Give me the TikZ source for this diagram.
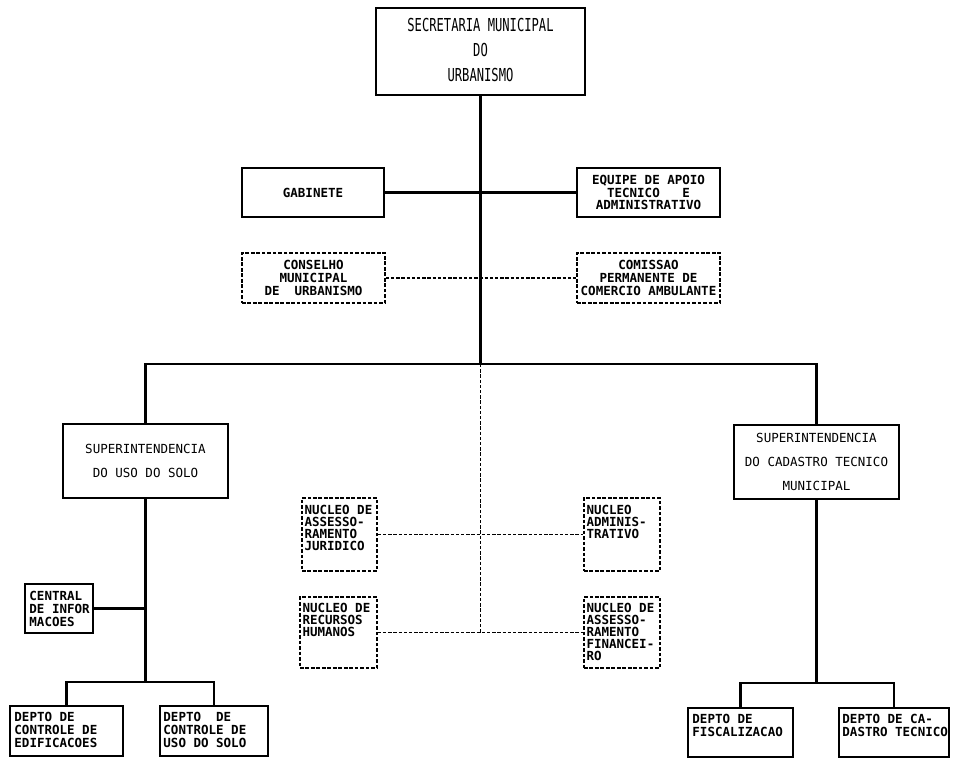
\documentclass[tikz,border=0pt]{standalone}
\usepackage{fontspec}
\setmonofont{DejaVu Sans Mono}
\usepackage{graphicx}

\newcommand{\px}{0.25mm}

\begin{document}
\begin{tikzpicture}[x=0.25mm, y=-0.25mm,
    every node/.style={inner sep=0pt},
    conn/.style={line width=1.5pt},
    dconn/.style={line width=1.4pt, dash pattern=on 2.4pt off 1.3pt},
    box/.style 2 args={draw, line width=1.2pt, minimum width=#1*\px,
        minimum height=#2*\px, align=center,
        font=\fontsize{8.9}{9.2}\selectfont\ttfamily\bfseries},
    dbox/.style 2 args={box={#1}{#2}, line width=1.1pt, dash pattern=on 2.6pt off 1.3pt},
    supbox/.style={box={165}{74}, font=\fontsize{8.9}{17}\selectfont\ttfamily},
    txt/.style={font=\fontsize{8.9}{#1}\selectfont\ttfamily\bfseries,
        align=left, anchor=north west},
    txt/.default=9.2]
    \useasboundingbox (0,0) rectangle (954,759);

    \node[box={209}{87}, font=\normalfont] (smu) at (480.5,51.5)
        {\scalebox{0.68}[1]{\fontsize{12.7}{18}\selectfont\ttfamily
         \begin{tabular}{@{}c@{}}SECRETARIA MUNICIPAL\\DO\\URBANISMO\end{tabular}}};

    \node[box={142}{49}] (gab) at (313,192.5) {GABINETE};
    \node[box={143}{49}] (equ) at (648.5,192.5)
        {EQUIPE DE APOIO\\TECNICO~~~E\\ADMINISTRATIVO};
    \node[dbox={143}{50}] (cons) at (313.5,278)
        {CONSELHO\\MUNICIPAL\\DE~~URBANISMO};
    \node[dbox={143}{50}] (comi) at (648.5,278)
        {COMISSAO\\PERMANENTE DE\\COMERCIO AMBULANTE};

    \node[supbox] (supL) at (145.5,461) {SUPERINTENDENCIA\\DO USO DO SOLO};
    \node[supbox] (supR) at (816.5,462)
        {SUPERINTENDENCIA\\DO CADASTRO TECNICO\\MUNICIPAL};

    \node[dbox={75}{73}] (nJur) at (339.5,534.5) {};
    \node[dbox={76}{73}] (nAdm) at (622,534.5) {};
    \node[dbox={77}{71}] (nRH) at (338.5,632.5) {};
    \node[dbox={76}{71}] (nFin) at (622,632.5) {};
    \node[txt=8.5] (tJur) at ([shift={(3,8)}]nJur.north west)
        {NUCLEO DE\\ASSESSO-\\RAMENTO\\JURIDICO};
    \node[txt=8.5] (tAdm) at ([shift={(3,8)}]nAdm.north west)
        {NUCLEO\\ADMINIS-\\TRATIVO};
    \node[txt=8.5] (tRH) at ([shift={(3,7)}]nRH.north west)
        {NUCLEO DE\\RECURSOS\\HUMANOS};
    \node[txt=8.5] (tFin) at ([shift={(3,7)}]nFin.north west)
        {NUCLEO DE\\ASSESSO-\\RAMENTO\\FINANCEI-\\RO};

    \node[box={68}{49}] (cent) at (59,608.5) {};
    \node[txt] (tCent) at ([shift={(5,8)}]cent.north west)
        {CENTRAL\\DE INFOR\\MACOES};

    \node[box={113}{50}] (dEd) at (66.5,731) {};
    \node[box={108}{50}] (dUso) at (214,731) {};
    \node[box={105}{49}] (dFis) at (740.5,732.5) {};
    \node[box={110}{49}] (dCad) at (894,732.5) {};
    \node[txt] (tEd) at ([shift={(5,7)}]dEd.north west)
        {DEPTO DE\\CONTROLE DE\\EDIFICACOES};
    \node[txt] (tUso) at ([shift={(4,7)}]dUso.north west)
        {DEPTO~~DE\\CONTROLE DE\\USO DO SOLO};
    \node[txt] (tFis) at ([shift={(5,7)}]dFis.north west)
        {DEPTO DE\\FISCALIZACAO};
    \node[txt] (tCad) at ([shift={(4,7)}]dCad.north west)
        {DEPTO DE CA-\\DASTRO TECNICO};

    \coordinate (bar) at (smu.south |- 0,364);
    \coordinate (lj) at (supL.south |- 0,682);
    \coordinate (rj) at (supR.south |- 0,683);

    \draw[conn] (smu.south) -- (bar);
    \draw[conn] (gab.east) -- (equ.west);
    \draw[dconn] (cons.east) -- (comi.west);
    \draw[conn] (supL.north) |- (bar) -| (supR.north);
    \draw[dconn] (bar) -- (bar |- nRH.east);
    \draw[dconn] (nJur.east) -- (nAdm.west);
    \draw[dconn] (nRH.east) -- (nFin.west);

    \draw[conn] (supL.south) -- (lj);
    \draw[conn] (cent.east) -- (cent.east -| lj);
    \draw[conn] (dEd.north) |- (lj) -| (dUso.north);

    \draw[conn] (supR.south) -- (rj);
    \draw[conn] (dFis.north) |- (rj) -| (dCad.north);
\end{tikzpicture}
\end{document}
